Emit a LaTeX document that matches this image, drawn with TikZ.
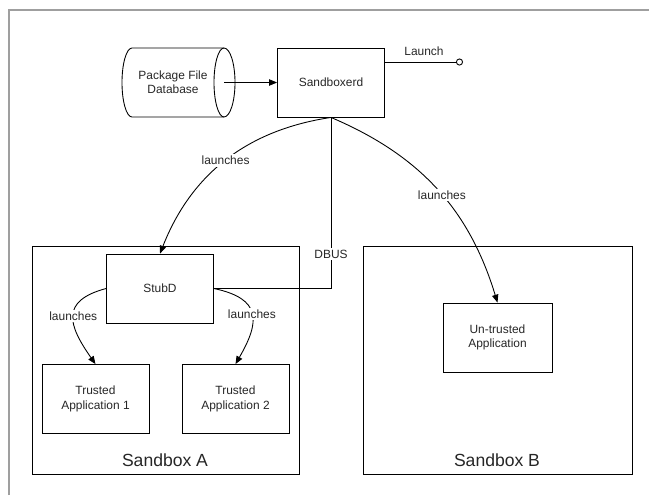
\documentclass[tikz,border=0pt]{standalone}
\usepackage{fontspec}
\setmainfont{Liberation Sans}
\usepackage{tikz}
\usetikzlibrary{positioning,arrows.meta,calc}

\tikzset{
  proc/.style={draw, line width=0.5pt, minimum width=2.14cm, minimum height=1.38cm,
    align=center, font=\fontsize{6.8}{8.2}\selectfont, text=black!85},
  sandbox/.style={draw, line width=0.5pt},
  lbl/.style={fill=white, inner sep=1pt, font=\fontsize{6.8}{8.2}\selectfont, text=black!85},
  link/.style={line width=0.5pt, -{Triangle[length=4.5pt,width=3.6pt]}}
}

\begin{document}
\begin{tikzpicture}[x=0.02cm, y=-0.02cm]
\useasboundingbox (0,0) rectangle (649,495);

% Outer frame
\draw[gray!75, line width=1pt] (9,495) -- (9,10) -- (649,10);

% Sandboxes
\node[sandbox, minimum width=5.34cm, minimum height=4.56cm] (sba) at (165.5,360) {};
\node[sandbox, minimum width=5.38cm, minimum height=4.56cm] (sbb) at (497.5,360) {};
\node[font=\fontsize{10}{12}\selectfont, text=black!85] (sbalbl) at (165,460) {Sandbox A};
\node[font=\fontsize{10}{12}\selectfont, text=black!85] (sbblbl) at (497,460) {Sandbox B};

% Package database (cylinder on its side)
\draw[line width=0.5pt] (132,48) -- (224,48)
  arc[start angle=90, end angle=-90, x radius=0.22cm, y radius=0.69cm]
  -- (132,117)
  arc[start angle=270, end angle=90, x radius=0.2cm, y radius=0.69cm];
\draw[line width=0.5pt] (224,48)
  arc[start angle=90, end angle=270, x radius=0.2cm, y radius=0.69cm];
\node[align=center, font=\fontsize{6.8}{8.2}\selectfont, text=black!85] (db) at (173,82) {Package File\\Database};
\coordinate (dbend) at (224,82.5);

% Boxes
\node[proc] (sbd) at (331,82.5) {Sandboxerd};
\node[proc] (stubd) at (160,288.5) {StubD};
\node[proc] (ta1) at (95.5,399) {Trusted\\Application 1};
\node[proc] (ta2) at (235.5,399) {Trusted\\Application 2};
\node[proc, minimum width=2.18cm] (untr) at (497.5,337.5) {Un-trusted\\Application};

% Links
\draw[link] (dbend) -- (sbd);
\coordinate (lnch) at (463,62);
\draw[line width=0.5pt, -{Circle[open,length=4pt]}] (sbd.east |- lnch) -- (lnch)
  node[midway, above=0pt, font=\fontsize{6.8}{8.2}\selectfont, text=black!85] {Launch};

\draw[link] (sbd.south) to[bend right=30] node[lbl, pos=0.5] {launches} (stubd.north);
\draw[link] (sbd.south) to[bend left=25] node[lbl, pos=0.53] {launches} (untr.north);
\draw[line width=0.5pt] (stubd.east) -| node[lbl, pos=0.6] {DBUS} (sbd.south);

\draw[link] (stubd.west) to[out=195, in=125, looseness=1.6] node[lbl, pos=0.5] {launches} (ta1.north);
\draw[link] (stubd.east) to[out=-12, in=60, looseness=1.6] node[lbl, pos=0.5] {launches} (ta2.north);
\end{tikzpicture}
\end{document}
